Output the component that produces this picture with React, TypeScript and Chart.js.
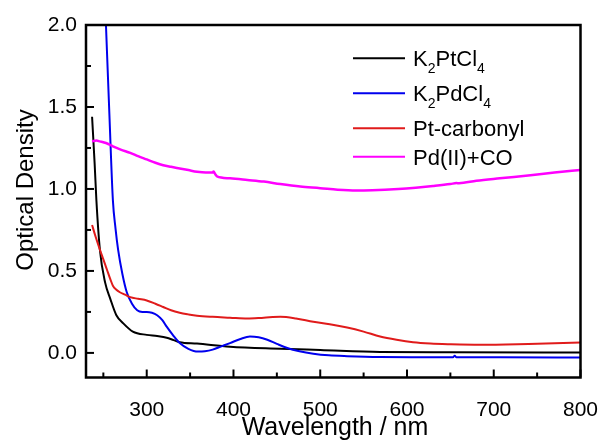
import React, { useEffect, useRef } from "react";
import { Chart, registerables } from "chart.js";

Chart.register(...registerables);

// ---- data (wavelength in nm, optical density) ----
const ptWl = [237, 240, 242, 246, 252, 258, 265, 273, 284, 300, 312, 323, 331, 338, 358, 396, 454, 500, 569, 650, 800];
const ptOD = [1.44, 1.15, 0.93, 0.63, 0.43, 0.33, 0.23, 0.18, 0.13, 0.11, 0.103, 0.093, 0.078, 0.065, 0.057, 0.038, 0.026, 0.018, 0.006, 0.004, 0.002];

const pdWl = [249, 253, 257, 261, 264, 267, 272, 277, 283, 289, 295, 300, 306, 312, 318, 323, 330, 338, 348, 359, 367, 376, 386, 396, 408, 419, 429, 439, 450, 462, 476, 492, 510, 531, 569, 620, 653, 655, 657, 700, 800];
const pdOD = [2.55, 2.0, 1.45, 0.93, 0.76, 0.63, 0.48, 0.37, 0.3, 0.26, 0.25, 0.25, 0.245, 0.23, 0.2, 0.16, 0.11, 0.06, 0.025, 0.008, 0.01, 0.02, 0.04, 0.06, 0.085, 0.1, 0.095, 0.08, 0.055, 0.03, 0.01, -0.005, -0.015, -0.02, -0.025, -0.026, -0.027, -0.017, -0.027, -0.027, -0.028];

const coWl = [237, 241, 246, 250, 254, 258, 261, 265, 269, 275, 281, 290, 300, 310, 319, 328, 338, 348, 358, 376, 396, 416, 435, 454, 472, 492, 511, 531, 550, 569, 588, 607, 627, 650, 684, 740, 800];
const coOD = [0.78, 0.71, 0.63, 0.57, 0.51, 0.45, 0.41, 0.385, 0.37, 0.355, 0.34, 0.33, 0.32, 0.3, 0.28, 0.26, 0.245, 0.235, 0.227, 0.22, 0.215, 0.21, 0.215, 0.22, 0.21, 0.19, 0.175, 0.155, 0.13, 0.1, 0.08, 0.065, 0.057, 0.053, 0.05, 0.055, 0.063];

const pdCoWl = [237, 242, 246, 253, 261, 270, 281, 290, 300, 310, 319, 328, 338, 348, 358, 368, 376, 377, 379, 381, 396, 416, 435, 454, 477, 500, 520, 542, 560, 590, 610, 630, 650, 657, 660, 680, 707, 745, 770, 800];
const pdCoOD = [1.29, 1.295, 1.29, 1.28, 1.26, 1.24, 1.22, 1.2, 1.18, 1.16, 1.145, 1.135, 1.125, 1.115, 1.105, 1.1, 1.1, 1.107, 1.09, 1.077, 1.065, 1.055, 1.045, 1.03, 1.015, 1.005, 0.995, 0.99, 0.992, 1.0, 1.008, 1.018, 1.03, 1.036, 1.035, 1.05, 1.065, 1.085, 1.1, 1.116];

const xTicks = [300, 400, 500, 600, 700, 800];
const xMinorTicks = [250, 350, 450, 550, 650, 750];
const yTicks = [0, 0.5, 1.0, 1.5, 2.0];
const yMinorTicks = [0.25, 0.75, 1.25, 1.75];

const FONT = '"Liberation Sans", Arial, sans-serif';

const seriesColors = ["#000000", "#0000ee", "#e01b1b", "#ff00ff"];

const toPts = (xs: number[], ys: number[]) => xs.map((x, i) => ({ x, y: ys[i] }));

const framePlugin = {
  id: "frameAndLegend",
  afterDraw(chart: any) {
    const { ctx, chartArea: a } = chart;
    const xs = chart.scales.x;
    const ys = chart.scales.y;
    ctx.save();
    ctx.strokeStyle = "#000";
    ctx.lineWidth = 2.5;
    ctx.strokeRect(a.left, a.top, a.right - a.left, a.bottom - a.top);

    ctx.lineWidth = 2;
    const line = (x1: number, y1: number, x2: number, y2: number) => {
      ctx.beginPath();
      ctx.moveTo(x1, y1);
      ctx.lineTo(x2, y2);
      ctx.stroke();
    };
    xTicks.forEach((v) => { const p = xs.getPixelForValue(v); line(p, a.bottom, p, a.bottom - 8); });
    xMinorTicks.forEach((v) => { const p = xs.getPixelForValue(v); line(p, a.bottom, p, a.bottom - 5); });
    yTicks.forEach((v) => { const p = ys.getPixelForValue(v); line(a.left, p, a.left + 8, p); });
    yMinorTicks.forEach((v) => { const p = ys.getPixelForValue(v); line(a.left, p, a.left + 5, p); });

    ctx.fillStyle = "#000";
    // x axis title
    ctx.font = `25px ${FONT}`;
    ctx.textAlign = "center";
    ctx.textBaseline = "alphabetic";
    ctx.fillText("Wavelength / nm", 335, 435);

    // y axis title
    ctx.save();
    ctx.translate(33, 190);
    ctx.rotate(-Math.PI / 2);
    ctx.font = `24px ${FONT}`;
    ctx.textAlign = "center";
    ctx.textBaseline = "alphabetic";
    ctx.fillText("Optical Density", 0, 0);
    ctx.restore();

    // legend
    const rows: { parts: [string, boolean][]; y: number; color: string }[] = [
      { parts: [["K", false], ["2", true], ["PtCl", false], ["4", true]], y: 58.3, color: seriesColors[0] },
      { parts: [["K", false], ["2", true], ["PdCl", false], ["4", true]], y: 93.3, color: seriesColors[1] },
      { parts: [["Pt-carbonyl", false]], y: 128.3, color: seriesColors[2] },
      { parts: [["Pd(II)+CO", false]], y: 156.7, color: seriesColors[3] },
    ];
    ctx.textAlign = "left";
    ctx.textBaseline = "alphabetic";
    rows.forEach((r) => {
      ctx.strokeStyle = r.color;
      ctx.lineWidth = 2;
      line(353, r.y, 405, r.y);
      let x = 413;
      const base = r.y + 8;
      r.parts.forEach(([t, sub]) => {
        ctx.font = sub ? `14px ${FONT}` : `22px ${FONT}`;
        ctx.fillText(t, x, sub ? base + 7 : base);
        x += ctx.measureText(t).width;
      });
    });
    ctx.restore();
  },
};

export default function App() {
  const ref = useRef<HTMLCanvasElement>(null);
  useEffect(() => {
    const mk = (label: string, xs: number[], ys: number[], color: string, w: number) => ({
      label,
      data: toPts(xs, ys),
      borderColor: color,
      backgroundColor: color,
      borderWidth: w,
      pointRadius: 0,
      cubicInterpolationMode: "monotone" as const,
      fill: false,
    });
    const chart = new Chart(ref.current as HTMLCanvasElement, {
      type: "line",
      data: {
        datasets: [
          mk("Pd(II)+CO", pdCoWl, pdCoOD, seriesColors[3], 2.5),
          mk("Pt-carbonyl", coWl, coOD, seriesColors[2], 2),
          mk("K2PdCl4", pdWl, pdOD, seriesColors[1], 2),
          mk("K2PtCl4", ptWl, ptOD, seriesColors[0], 2),
        ],
      },
      options: {
        animation: false,
        responsive: false,
        devicePixelRatio: 1,
        layout: { padding: { top: 25, right: 21.5, left: 0, bottom: 0 } },
        plugins: { legend: { display: false }, tooltip: { enabled: false } },
        scales: {
          x: {
            type: "linear",
            min: 230,
            max: 800,
            grid: { display: false, drawTicks: false },
            border: { display: false },
            afterBuildTicks: (s: any) => { s.ticks = xTicks.map((v) => ({ value: v })); },
            afterFit: (s: any) => { s.height = 63.5; s.paddingLeft = 0; s.paddingRight = 0; },
            ticks: {
              autoSkip: false,
              maxRotation: 0,
              padding: 20,
              color: "#000",
              font: { family: FONT, size: 21 },
              callback: (v: any) => String(v),
            },
          },
          y: {
            type: "linear",
            min: -0.15,
            max: 2.0,
            grid: { display: false, drawTicks: false },
            border: { display: false },
            afterBuildTicks: (s: any) => { s.ticks = yTicks.map((v) => ({ value: v })); },
            afterFit: (s: any) => { s.width = 86; s.paddingTop = 0; s.paddingBottom = 0; },
            ticks: {
              autoSkip: false,
              padding: 9,
              color: "#000",
              font: { family: FONT, size: 21 },
              callback: (v: any) => Number(v).toFixed(1),
            },
          },
        },
      },
      plugins: [framePlugin],
    });
    return () => chart.destroy();
  }, []);
  return (
    <div style={{ position: "fixed", left: 0, top: 0, width: 602, height: 441, background: "#fff" }}>
      <canvas ref={ref} width={602} height={441} style={{ display: "block", width: 602, height: 441 }} />
    </div>
  );
}
